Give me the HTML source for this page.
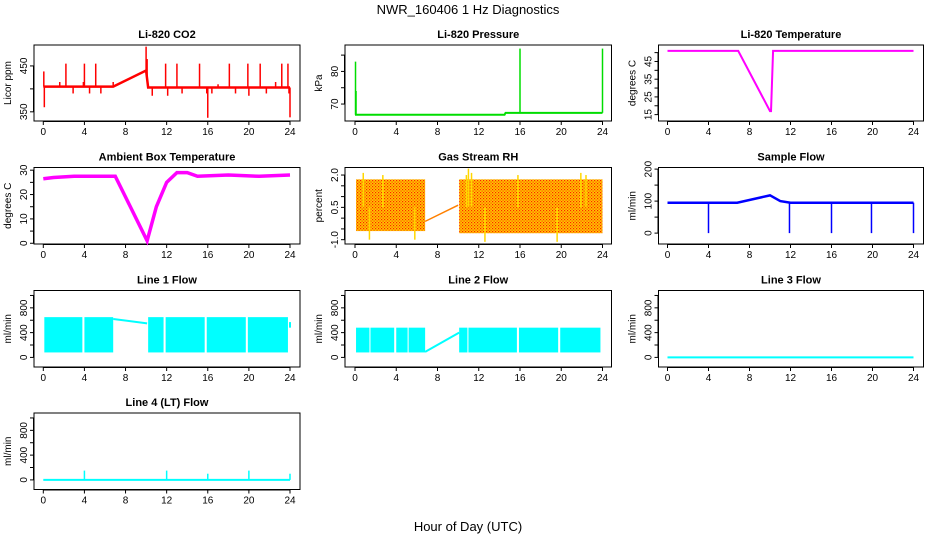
<!DOCTYPE html>
<html><head><meta charset="utf-8"><style>
html,body{margin:0;padding:0;background:#fff;}
svg{display:block;font-family:"Liberation Sans",Arial,sans-serif;}
</style></head><body>
<svg id="chart" width="936" height="540" viewBox="0 0 936 540" xmlns="http://www.w3.org/2000/svg">
<defs>
<pattern id="rhpat" width="3" height="3" patternUnits="userSpaceOnUse">
<rect width="3" height="3" fill="#ffc800"/><rect x="0" y="0" width="1.2" height="1.2" fill="#ff2000"/><rect x="1.5" y="1.5" width="1.2" height="1.2" fill="#ff4000"/>
</pattern>
</defs>
<text x="468" y="14" font-size="13" text-anchor="middle">NWR_160406  1 Hz Diagnostics</text>
<text x="468" y="531" font-size="13" text-anchor="middle">Hour of Day (UTC)</text>
<g id="panels"></g>
</svg>
<script>
// ---- data arrays ----
const xTicks = [0,4,8,12,16,20,24];
// CO2
const co2Hours = [0,6.8,10,10.2,24];
const co2Vals = [405,405,440,403,403];
const co2SpikeHours = [0.05,0.1,1.6,2.2,2.9,3.9,4.0,4.5,5.1,5.6,6.8,10.0,10.1,10.6,11.9,12.1,13.0,13.5,15.2,15.9,16.0,16.4,17.0,18.1,18.7,19.9,20.0,21.1,21.7,22.6,23.2,23.8,23.9,24.0];
const co2SpikeVals = [438,360,415,455,390,415,455,390,455,390,415,492,465,385,455,385,455,390,455,390,337,390,410,455,390,455,385,455,390,415,455,455,390,338];
// Pressure
const presHours = [0,14.5,14.6,24];
const presVals = [66.7,66.7,67.3,67.3];
const presSpikeHours = [0.05,0.1,16.0,24.0];
const presSpikeVals = [83,74,87,87];
// Li-820 temperature
const ltHours = [0,6.9,10.0,10.1,10.3,24];
const ltVals = [51,51,17,17,51,51];
// Ambient box temperature
const abHours = [0,1,3,7,8,10.1,11,12,13,14,15,18,21,24];
const abVals = [26.5,27,27.5,27.5,19,1,15,25,29,29,27.5,28,27.5,28];
// Gas stream RH
const rhBand1Hours = [0.1,6.8];
const rhBand2Hours = [10.1,24];
const rhLow = [-0.6,-0.7];
const rhHigh = [1.8,1.8];
const rhLineHours = [6.8,10.0];
const rhLineVals = [-0.15,0.6];
const rhSpikeHours = [0.8,1.4,2.7,5.8,10.8,11.0,11.3,12.6,15.8,19.6,21.9,22.4];
const rhSpikeVals = [2.1,-1.0,2.0,-1.0,2.0,2.3,2.1,-1.1,2.0,-1.1,2.1,2.0];
// Sample flow
const sfHours = [0,6.8,10,11,12,24];
const sfVals = [95,95,118,100,95,95];
const sfDipHours = [4.0,11.9,16.0,19.9,24.0];
const sfDipVals = [0,0,0,0,0];
// Line 1 flow
const l1SegStart = [0.1,4.0,10.2,11.9,15.9,19.9];
const l1SegEnd = [3.8,6.8,11.7,15.7,19.7,23.8];
const l1Low = 80, l1High = 650;
const l1LineHours = [6.8,10.1];
const l1LineVals = [620,550];
// Line 2 flow
const l2SegStart = [0.1,1.5,4.0,5.2,10.1,11.0,15.9,19.9];
const l2SegEnd = [1.4,3.8,5.1,6.8,10.9,15.7,19.7,23.8];
const l2Low = 80, l2High = 480;
const l2LineHours = [6.8,10.1];
const l2LineVals = [90,400];
// Line 3 flow
const l3Hours = [0,24];
const l3Vals = [0,0];
// Line 4 flow
const l4Hours = [0,24];
const l4Vals = [0,0];
const l4SpikeHours = [4.0,12.0,16.0,20.0,24.0];
const l4SpikeVals = [150,150,100,150,100];

// ---- layout ----
const cols = [{l:34,r:300,x0:43.3,x24:290},{l:345,r:611.5,x0:355,x24:602.5},{l:658.5,r:923.5,x0:667.5,x24:913.5}];
const rows = [{t:45,b:121},{t:167.5,b:244},{t:290.5,b:367},{t:413,b:489.5}];
const NS="http://www.w3.org/2000/svg";
const root=document.getElementById('panels');
function mk(tag,attrs,parent){const e=document.createElementNS(NS,tag);for(const k in attrs)e.setAttribute(k,attrs[k]);(parent||root).appendChild(e);return e;}

function panel(ci,ri,title,ylab,ymin,ymax,ytickV,ylabelV,name){
  const c=cols[ci],r=rows[ri];
  const g=mk('g',{});
  
  
  const sx=h=>c.x0+(c.x24-c.x0)*h/24;
  const sy=v=>r.b-(v-ymin)/(ymax-ymin)*(r.b-r.t);
  const t=mk('text',{x:(c.l+c.r)/2,y:r.t-7,'font-size':11,'font-weight':'bold','text-anchor':'middle'},g);
  t.textContent=title;
  
  
  const box=mk('rect',{x:c.l,y:r.t,width:c.r-c.l,height:r.b-r.t,fill:'none',stroke:'#000','stroke-width':1},g);
  
  
  const xa=mk('g',{},g);
  
  
  mk('line',{x1:sx(0),x2:sx(24),y1:r.b+0.5,y2:r.b+0.5,stroke:'#000'},xa);
  xTicks.forEach(h=>{mk('line',{x1:sx(h),x2:sx(h),y1:r.b,y2:r.b+4,stroke:'#000'},xa);
    const tx=mk('text',{x:sx(h),y:r.b+14,'font-size':10,'text-anchor':'middle'},xa);tx.textContent=h;});
  const ya=mk('g',{},g);
  
  
  const yv=ytickV.filter(v=>sy(v)>=r.t-8&&sy(v)<=r.b+8);
  mk('line',{x1:c.l-0.5,x2:c.l-0.5,y1:sy(yv[0]),y2:sy(yv[yv.length-1]),stroke:'#000'},ya);
  yv.forEach(v=>mk('line',{x1:c.l-4,x2:c.l,y1:sy(v),y2:sy(v),stroke:'#000'},ya));
  ylabelV.forEach(v=>{const tx=mk('text',{x:0,y:0,'font-size':10,'text-anchor':'middle',transform:`translate(${c.l-7},${sy(v)}) rotate(-90)`},ya);tx.textContent=v;});
  const yl=mk('text',{x:0,y:0,'font-size':10,'text-anchor':'middle',transform:`translate(${c.l-23},${(r.t+r.b)/2}) rotate(-90)`},g);
  yl.textContent=ylab;
  
  
  return {g,sx,sy};
}
function line(p,hs,vs,color,w,name){
  const pl=mk('polyline',{points:hs.map((h,i)=>p.sx(h)+','+p.sy(vs[i])).join(' '),fill:'none',stroke:color,'stroke-width':w},p.g);
  
  
  return pl;
}
function spikes(p,hs,vs,base,color,w,name){
  hs.forEach((h,i)=>{
    const b=typeof base==='function'?base(h):base;
    const l=mk('line',{x1:p.sx(h),x2:p.sx(h),y1:p.sy(b),y2:p.sy(vs[i]),stroke:color,'stroke-width':w},p.g);
    
    
  });
}
function band(p,h0,h1,lo,hi,fill,name){
  const x0=p.sx(h0),x1=p.sx(h1);
  const rc=mk('rect',{x:x0,y:p.sy(hi),width:x1-x0,height:p.sy(lo)-p.sy(hi),fill:fill},p.g);
  
  
}
function interp(hs,vs,h){for(let i=0;i<hs.length-1;i++){if(h>=hs[i]&&h<=hs[i+1]){const f=(h-hs[i])/((hs[i+1]-hs[i])||1);return vs[i]+f*(vs[i+1]-vs[i]);}}return vs[vs.length-1];}

let p=panel(0,0,'Li-820 CO2','Licor ppm',330,495.6,[350,400,450],[350,450],'co2');
line(p,co2Hours,co2Vals,'#ff0000',2.5,'co2-line');
spikes(p,co2SpikeHours,co2SpikeVals,h=>interp(co2Hours,co2Vals,h),'#ff0000',1.5,'co2-spike');
p=panel(1,0,'Li-820 Pressure','kPa',64.8,88.1,[70,75,80,85],[70,80],'pressure');
line(p,presHours,presVals,'#00dd00',2,'pressure-line');
spikes(p,presSpikeHours,presSpikeVals,h=>interp(presHours,presVals,h),'#00dd00',1.5,'pressure-spike');
p=panel(2,0,'Li-820 Temperature','degrees C',11.4,54.3,[15,20,25,30,35,40,45,50],[15,25,35,45],'li820-temp');
line(p,ltHours,ltVals,'#ff00ff',2,'li820-temp-line');
p=panel(0,1,'Ambient Box Temperature','degrees C',-0.3,31.1,[0,5,10,15,20,25,30],[0,10,20,30],'ambient-temp');
line(p,abHours,abVals,'#ff00ff',3.5,'ambient-temp-line');
p=panel(1,1,'Gas Stream RH','percent',-1.2,2.35,[-1,-0.5,0,0.5,1,1.5,2],['-1.0','0.5','2.0'],'gas-rh');
band(p,rhBand1Hours[0],rhBand1Hours[1],rhLow[0],rhHigh[0],'url(#rhpat)','rh-band');
band(p,rhBand2Hours[0],rhBand2Hours[1],rhLow[1],rhHigh[1],'url(#rhpat)','rh-band');
line(p,rhLineHours,rhLineVals,'#ff8000',1.5,'rh-line');
spikes(p,rhSpikeHours,rhSpikeVals,0.5,'#ffd700',1.5,'rh-spike');
p=panel(2,1,'Sample Flow','ml/min',-34,205,[0,50,100,150,200],[0,100,200],'sample-flow');
line(p,sfHours,sfVals,'#0000ff',2.5,'sample-flow-line');
spikes(p,sfDipHours,sfDipVals,95,'#0000ff',1.5,'sample-flow-dip');
p=panel(0,2,'Line 1 Flow','ml/min',-155,1080,[0,200,400,600,800,1000],[0,400,800],'line1-flow');
l1SegStart.forEach((s,i)=>band(p,s,l1SegEnd[i],l1Low,l1High,'#00ffff','line1-band'));
line(p,l1LineHours,l1LineVals,'#00ffff',2,'line1-line');
spikes(p,[24],[480],570,'#00ffff',2,'line1-end');
p=panel(1,2,'Line 2 Flow','ml/min',-155,1080,[0,200,400,600,800,1000],[0,400,800],'line2-flow');
l2SegStart.forEach((s,i)=>band(p,s,l2SegEnd[i],l2Low,l2High,'#00ffff','line2-band'));
line(p,l2LineHours,l2LineVals,'#00ffff',2,'line2-line');
p=panel(2,2,'Line 3 Flow','ml/min',-155,1080,[0,200,400,600,800,1000],[0,400,800],'line3-flow');
line(p,l3Hours,l3Vals,'#00ffff',2,'line3-line');
p=panel(0,3,'Line 4 (LT) Flow','ml/min',-155,1080,[0,200,400,600,800,1000],[0,400,800],'line4-flow');
line(p,l4Hours,l4Vals,'#00ffff',2,'line4-line');
spikes(p,l4SpikeHours,l4SpikeVals,0,'#00ffff',1.5,'line4-spike');
</script>
</body></html>
